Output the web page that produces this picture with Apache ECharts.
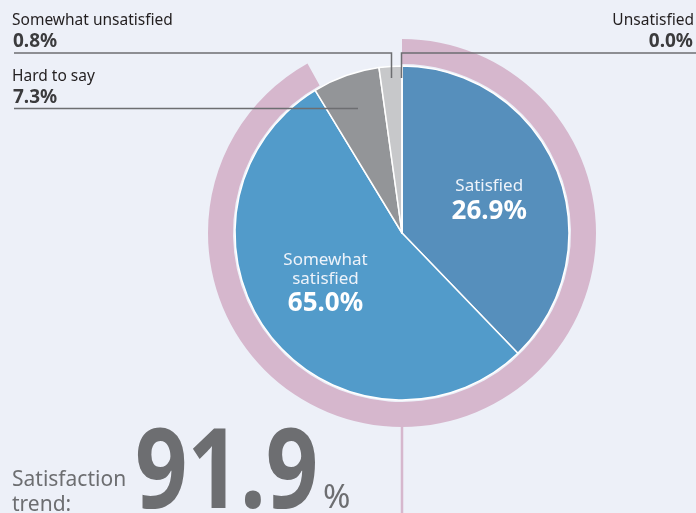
<!DOCTYPE html>
<html>
<head>
<meta charset="utf-8">
<script src="https://cdn.jsdelivr.net/npm/echarts@6/dist/echarts.min.js"></script>
<style>
  html, body { margin: 0; padding: 0; background: #edf0f8; }
  #chart { width: 696px; height: 513px; }
</style>
</head>
<body>
<div id="chart"></div>
<script>
// categories and the figures printed on the chart
const categories = ['Satisfied', 'Somewhat satisfied', 'Hard to say', 'Somewhat unsatisfied', 'Unsatisfied']
const printedPct = [26.9, 65.0, 7.3, 0.8, 0.0]
// arc sizes as they are drawn in the source picture (share of the full circle)
const drawnShare = [37.8, 53.5, 6.5, 2.2, 0.0]
const sliceColors = ['#568fbc', '#529bca', '#939598', '#c7c8ca', '#b0b1b4']
// outer ring = satisfaction trend
const trendValue = 91.9

const cx = 402, cy = 233
const pieR = 167
const ringR = [169, 194]
const font = '"Noto Sans", "Open Sans", sans-serif'
const textDark = '#231f20'
const grey = '#6d6e71'
const pink = '#d6b7cd'
// nudges for the two inside labels
const labelNudge = [[7, 1], [-8, -1]]

const chart = echarts.init(document.getElementById('chart'))

const pieData = categories.map((name, i) => {
  const inside = i < 2
  const nameTxt = name.split(' ').map(w => '{n|' + w + '}').join('\n')
  return {
    name,
    value: drawnShare[i],
    itemStyle: { color: sliceColors[i] },
    label: {
      show: inside,
      formatter: nameTxt + '\n{v|' + printedPct[i].toFixed(1) + '%}'
    }
  }
})

// outside labels with leader lines
function sideLabel(name, pct, x, align, y1, y2) {
  return [
    {
      type: 'text', x, y: y1, z: 100,
      style: { text: name, font: '15.5px ' + font, fill: textDark, textAlign: align, textVerticalAlign: 'middle' }
    },
    {
      type: 'text', x: align === 'left' ? x + 1 : x - 1, y: y2, z: 100,
      style: { text: pct.toFixed(1) + '%', font: 'bold 19px ' + font, fill: '#3b3b3d', textAlign: align, textVerticalAlign: 'middle' }
    }
  ]
}

const lineStyle = { stroke: grey, lineWidth: 1.5, fill: null }

chart.setOption({
  backgroundColor: '#edf0f8',
  animation: false,
  series: [
    {
      type: 'pie',
      silent: true,
      center: [cx, cy],
      radius: [0, pieR],
      startAngle: 90,
      clockwise: true,
      itemStyle: { borderColor: '#ffffff', borderWidth: 1.5 },
      label: {
        position: 'inside',
        color: '#ffffff',
        fontFamily: font,
        lineHeight: 19,
        rich: {
          n: { fontSize: 17, color: '#eef3fa', fontFamily: font, lineHeight: 19 },
          v: { fontSize: 26, fontWeight: 'bold', color: '#ffffff', fontFamily: font, lineHeight: 30 }
        }
      },
      labelLayout: p => {
        const n = labelNudge[p.dataIndex]
        return n ? { dx: n[0], dy: n[1] } : {}
      },
      labelLine: { show: false },
      data: pieData
    },
    {
      type: 'pie',
      silent: true,
      center: [cx, cy],
      radius: ringR,
      startAngle: 90,
      clockwise: true,
      label: { show: false },
      labelLine: { show: false },
      data: [
        { name: 'trend', value: trendValue, itemStyle: { color: pink } },
        { name: 'rest', value: 100 - trendValue, itemStyle: { color: 'rgba(0,0,0,0)' } }
      ]
    }
  ],
  graphic: [
    ...sideLabel(categories[3], printedPct[3], 12, 'left', 21, 42),
    ...sideLabel(categories[2], printedPct[2], 12, 'left', 77, 98),
    ...sideLabel(categories[4], printedPct[4], 694, 'right', 21, 42),
    { type: 'polyline', z: 100, shape: { points: [[14, 53], [391.5, 53], [391.5, 78]] }, style: lineStyle },
    { type: 'polyline', z: 100, shape: { points: [[696, 53], [401.5, 53], [401.5, 78]] }, style: lineStyle },
    { type: 'polyline', z: 100, shape: { points: [[14, 108.5], [358, 108.5]] }, style: lineStyle },
    // pink stem under the ring
    { type: 'line', shape: { x1: cx, y1: cy + ringR[1] - 2, x2: cx, y2: 513 }, style: { stroke: pink, lineWidth: 2.5 } },
    // satisfaction trend caption
    {
      type: 'text', x: 12, y: 480,
      style: { text: 'Satisfaction', font: '21px ' + font, fill: grey, textVerticalAlign: 'middle' }
    },
    {
      type: 'text', x: 12, y: 505,
      style: { text: 'trend:', font: '21px ' + font, fill: grey, textVerticalAlign: 'middle' }
    },
    {
      type: 'text', x: 135, y: 476, scaleX: 0.82,
      style: { text: trendValue.toFixed(1), font: 'bold 112px ' + font, fill: grey, textVerticalAlign: 'middle' }
    },
    {
      type: 'text', x: 323, y: 499,
      style: { text: '%', font: '33px ' + font, fill: grey, textVerticalAlign: 'middle' }
    }
  ]
})
</script>
</body>
</html>
